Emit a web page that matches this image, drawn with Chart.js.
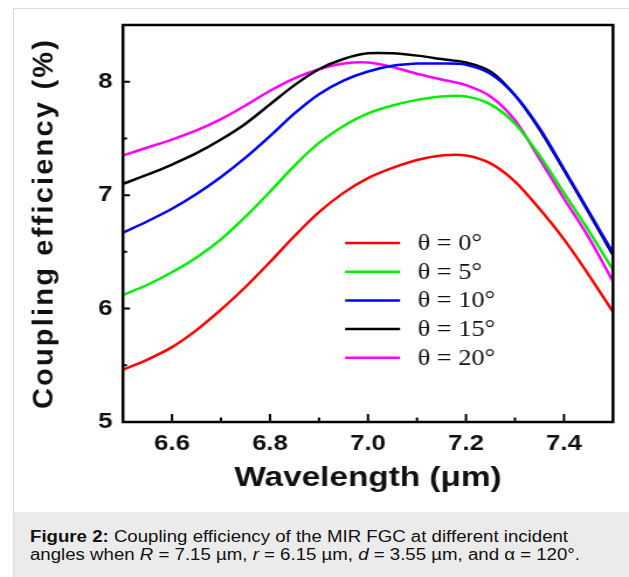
<!DOCTYPE html>
<html>
<head>
<meta charset="utf-8">
<script src="https://cdn.jsdelivr.net/npm/chart.js@4/dist/chart.umd.min.js"></script>
<style>
  html, body { margin: 0; padding: 0; background: #fff; }
  body { width: 629px; height: 577px; position: relative; overflow: hidden; }
  #frame { position: absolute; left: 13px; top: 8px; right: -2px; bottom: -2px; border: 1px solid #dcdcdc; }
  #wrap { position: absolute; left: 14px; top: 9px; width: 615px; height: 500px; }
  #caption {
    position: absolute; left: 14px; top: 512px; width: 615px; height: 65px;
    background: #ebebeb; overflow: hidden;
  }
  #caption div {
    position: absolute; left: 16px; top: 16px; white-space: nowrap;
    font-family: "Liberation Sans", Arial, sans-serif; font-size: 16px; line-height: 18px; color: #111;
    transform: scaleX(1.165); transform-origin: 0 0;
  }
</style>
</head>
<body>
<div id="frame"></div>
<div id="wrap"><canvas id="grafica" width="526" height="500" style="width:615px;height:500px"></canvas></div>
<div id="caption"><div><b>Figure 2:</b> Coupling efficiency of the MIR FGC at different incident<br>angles when <i>R</i> = 7.15 µm, <i>r</i> = 6.15 µm, <i>d</i> = 3.55 µm, and α = 120°.</div></div>
<script>
// datos
var longitudOnda = [6.5, 6.55, 6.6, 6.65, 6.7, 6.75, 6.8, 6.85, 6.9, 6.95, 7.0, 7.05, 7.1, 7.15, 7.2, 7.25, 7.3, 7.35, 7.4, 7.45, 7.5];
var theta0  = [5.46, 5.55, 5.66, 5.81, 5.99, 6.19, 6.41, 6.64, 6.85, 7.02, 7.15, 7.24, 7.31, 7.35, 7.35, 7.28, 7.12, 6.88, 6.61, 6.30, 5.97];
var theta5  = [6.12, 6.21, 6.32, 6.45, 6.61, 6.81, 7.03, 7.26, 7.46, 7.61, 7.72, 7.79, 7.84, 7.87, 7.87, 7.80, 7.63, 7.35, 7.02, 6.69, 6.34];
var theta10 = [6.67, 6.77, 6.88, 7.01, 7.16, 7.33, 7.52, 7.72, 7.89, 8.01, 8.09, 8.14, 8.16, 8.16, 8.15, 8.07, 7.88, 7.59, 7.23, 6.86, 6.49];
var theta15 = [7.10, 7.18, 7.27, 7.37, 7.49, 7.63, 7.80, 7.97, 8.11, 8.20, 8.25, 8.25, 8.23, 8.20, 8.17, 8.09, 7.88, 7.58, 7.22, 6.85, 6.47];
var theta20 = [7.35, 7.42, 7.49, 7.57, 7.67, 7.79, 7.92, 8.03, 8.11, 8.16, 8.17, 8.13, 8.07, 8.02, 7.97, 7.87, 7.66, 7.32, 6.97, 6.63, 6.24];
var etiquetas = ["θ = 0°", "θ = 5°", "θ = 10°", "θ = 15°", "θ = 20°"];
var colores = ["#ff0000", "#00ee00", "#0000ff", "#000000", "#ff00ff"];
var ticksX = [6.6, 6.8, 7.0, 7.2, 7.4];
var ticksMenoresX = [6.7, 6.9, 7.1, 7.3];
var ticksY = [5, 6, 7, 8];
var ticksMenoresY = [5.5, 6.5, 7.5];

var series = [theta0, theta5, theta10, theta15, theta20];
var ESTIRA = 615 / 526; // el canvas se muestra estirado en horizontal

function puntos(valores) {
  return longitudOnda.map(function (w, i) { return { x: w, y: valores[i] }; });
}

// marco, ticks hacia adentro, titulo Y y leyenda
var marcoPlugin = {
  id: "marco",
  afterDraw: function (chart) {
    var ctx = chart.ctx;
    var a = chart.chartArea;
    var sx = chart.scales.x, sy = chart.scales.y;
    ctx.save();
    ctx.strokeStyle = "#000";
    ctx.lineWidth = 2.5;
    ctx.strokeRect(a.left, a.top, a.right - a.left, a.bottom - a.top);
    ctx.lineWidth = 2;
    ctx.beginPath();
    ticksX.forEach(function (v) {
      var p = sx.getPixelForValue(v);
      ctx.moveTo(p, a.bottom); ctx.lineTo(p, a.bottom - 8);
    });
    ticksMenoresX.forEach(function (v) {
      var p = sx.getPixelForValue(v);
      ctx.moveTo(p, a.bottom); ctx.lineTo(p, a.bottom - 4.5);
    });
    ticksY.forEach(function (v) {
      var p = sy.getPixelForValue(v);
      ctx.moveTo(a.left, p); ctx.lineTo(a.left + 6, p);
    });
    ticksMenoresY.forEach(function (v) {
      var p = sy.getPixelForValue(v);
      ctx.moveTo(a.left, p); ctx.lineTo(a.left + 3.5, p);
    });
    ctx.stroke();

    // titulo del eje Y (sin estirar)
    ctx.save();
    ctx.translate(30 / ESTIRA, (a.top + a.bottom) / 2);
    ctx.scale(1 / ESTIRA, 1);
    ctx.rotate(-Math.PI / 2);
    ctx.font = "bold 29px 'Liberation Sans', Arial, sans-serif";
    if ("letterSpacing" in ctx) ctx.letterSpacing = "2.2px";
    ctx.fillStyle = "#111";
    ctx.textAlign = "center";
    ctx.textBaseline = "middle";
    ctx.fillText("Coupling efficiency (%)", 0, 0);
    ctx.restore();

    // leyenda
    var x0 = a.left + 190, x1 = a.left + 237, xt = a.left + 252;
    var y0 = a.top + 218, dy = 28.7;
    ctx.font = "22.5px 'Liberation Serif', 'Times New Roman', serif";
    ctx.textBaseline = "middle";
    ctx.textAlign = "left";
    chart.data.datasets.forEach(function (ds, i) {
      var y = y0 + i * dy;
      ctx.strokeStyle = ds.borderColor;
      ctx.lineWidth = 2.5;
      ctx.beginPath();
      ctx.moveTo(x0, y); ctx.lineTo(x1, y);
      ctx.stroke();
      ctx.fillStyle = "#111";
      ctx.fillText(ds.label, xt, y + 1);
    });
    ctx.restore();
  }
};

var datasets = series.map(function (s, i) {
  return {
    label: etiquetas[i],
    data: puntos(s),
    borderColor: colores[i],
    backgroundColor: colores[i],
    borderWidth: 2.5,
    pointRadius: 0,
    tension: 0.3,
    fill: false
  };
});

var familia = "'Liberation Sans', Arial, sans-serif";

new Chart(document.getElementById("grafica"), {
  type: "line",
  data: { datasets: datasets },
  options: {
    responsive: false,
    animation: false,
    layout: { padding: { top: 16, right: 13.7, left: 0, bottom: 0 } },
    plugins: { legend: { display: false }, tooltip: { enabled: false } },
    scales: {
      x: {
        type: "linear",
        min: 6.5,
        max: 7.5,
        grid: { display: false, drawTicks: false },
        border: { display: false },
        afterBuildTicks: function (scale) {
          scale.ticks = ticksX.map(function (v) { return { value: v }; });
        },
        afterFit: function (scale) {
          scale.height = 87;
          scale.paddingLeft = 0;
          scale.paddingRight = 0;
        },
        ticks: {
          color: "#111",
          padding: 9,
          maxRotation: 0,
          font: { family: familia, weight: "bold", size: 22 },
          callback: function (v) { return v.toFixed(1); }
        },
        title: {
          display: true,
          text: "Wavelength (μm)",
          color: "#111",
          padding: { top: 0, bottom: 14 },
          font: { family: familia, weight: "bold", size: 28.5 }
        }
      },
      y: {
        type: "linear",
        min: 5,
        max: 8.5,
        grid: { display: false, drawTicks: false },
        border: { display: false },
        afterBuildTicks: function (scale) {
          scale.ticks = ticksY.map(function (v) { return { value: v }; });
        },
        afterFit: function (scale) {
          scale.width = 93.2;
          scale.paddingTop = 0;
          scale.paddingBottom = 0;
        },
        ticks: {
          color: "#111",
          padding: 9,
          font: { family: familia, weight: "bold", size: 22 },
          callback: function (v) { return String(v); }
        },
        title: { display: false }
      }
    }
  },
  plugins: [marcoPlugin]
});
</script>
</body>
</html>
